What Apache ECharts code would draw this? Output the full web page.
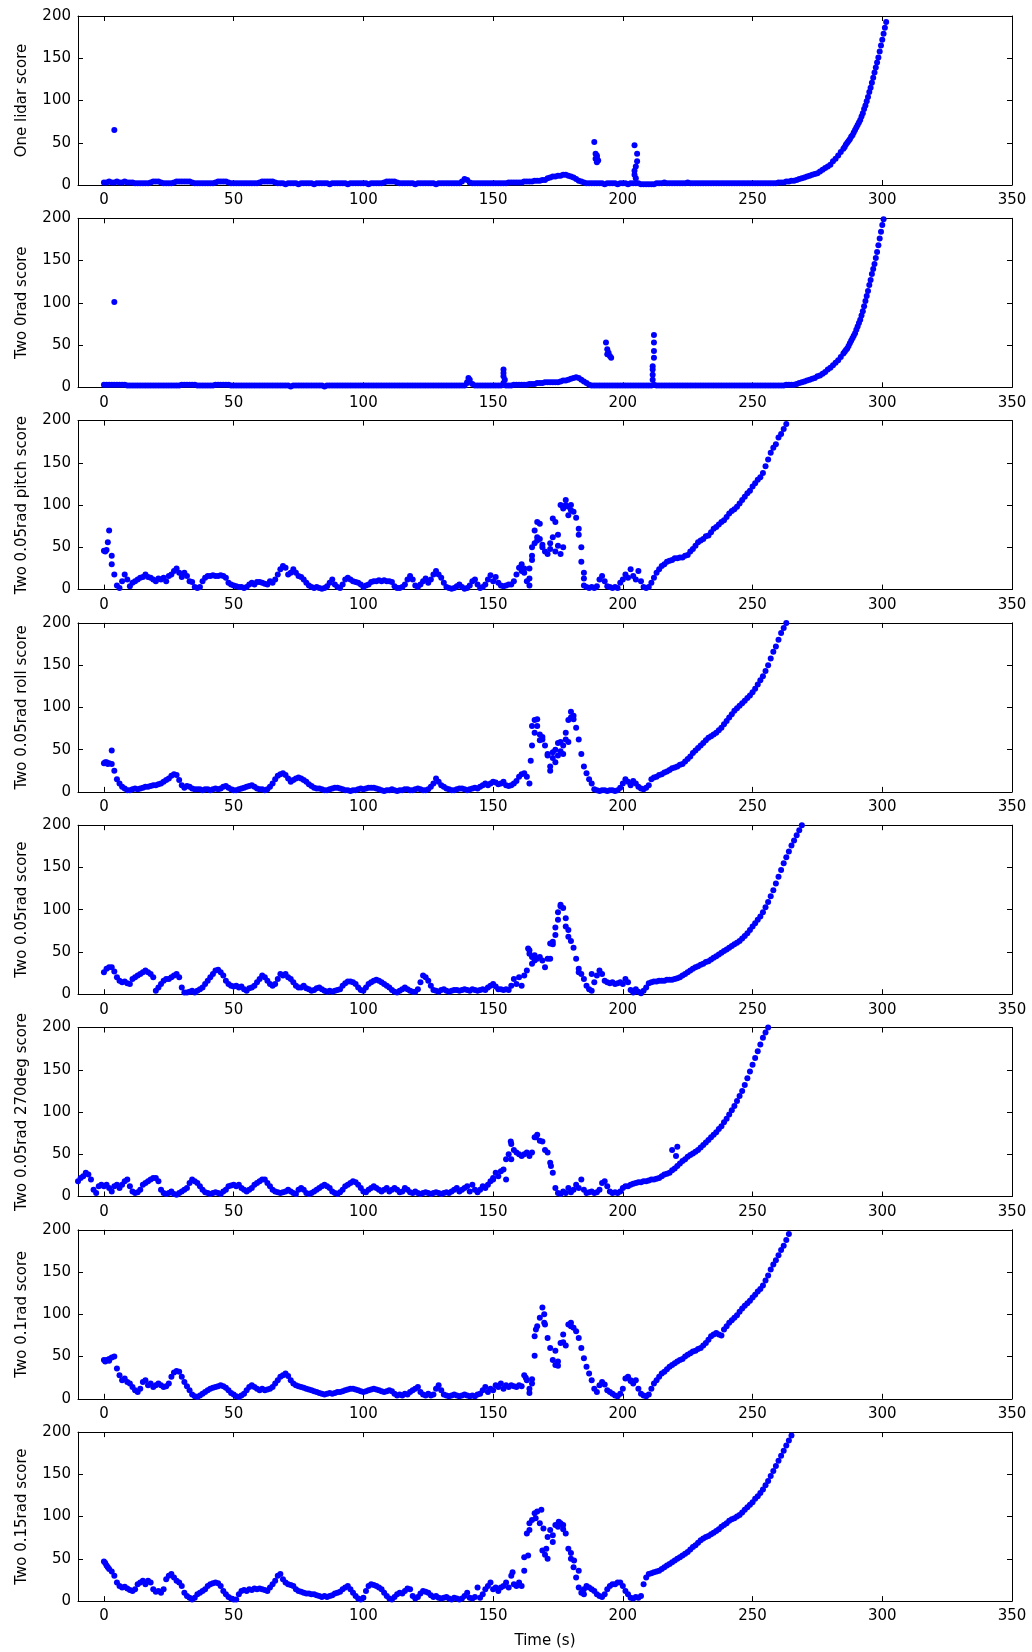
<!DOCTYPE html>
<html>
<head>
<meta charset="utf-8">
<script src="https://cdn.jsdelivr.net/npm/echarts@6/dist/echarts.min.js"></script>
<style>
html,body{margin:0;padding:0;background:#ffffff;}
#chart{width:1032px;height:1652px;}
</style>
</head>
<body>
<div id="chart"></div>
<script>
// ---- axis ticks / labels ----
const xTickValues = [0, 50, 100, 150, 200, 250, 300, 350];
const yTickValues = [0, 50, 100, 150, 200];
const panelLabels = [
  'One lidar score',
  'Two 0rad score',
  'Two 0.05rad pitch score',
  'Two 0.05rad roll score',
  'Two 0.05rad score',
  'Two 0.05rad 270deg score',
  'Two 0.1rad score',
  'Two 0.15rad score'
];
const xAxisTitle = 'Time (s)';

// ---- series values (one value per second, rows of 10) ----
// One lidar score, t from 0
const oneLidar = [
  3,3,4,3,3,4,3,3,4,3,
  3,3,2,2,2,2,2,2,3,4,
  4,4,3,2,2,2,2,3,4,4,
  4,4,4,4,3,2,2,2,2,2,
  2,2,2,3,4,4,4,4,3,2,
  2,2,2,2,2,2,2,2,2,2,
  3,4,4,4,4,4,3,2,2,2,
  1,2,2,2,2,1,2,2,2,2,
  2,1,2,2,2,2,2,1,2,2,
  2,2,2,2,1,2,2,2,2,2,
  2,2,1,2,2,2,2,2,3,4,
  4,4,4,3,2,2,2,2,2,2,
  1,2,2,2,2,2,2,2,1,2,
  2,2,2,2,2,2,2,2,4,7,
  6,3,2,2,2,2,2,2,2,2,
  2,2,2,2,2,2,3,3,3,3,
  3,3,4,4,4,4,5,5,5,6,
  6,8,9,10,10,11,11,12,12,11,
  10,9,7,5,4,3,2,2,2,2,
  2,2,2,1,2,2,2,2,1,2,
  2,2,1,2,2,2,2,1,1,1,
  1,1,1,2,2,2,3,2,2,2,
  2,2,2,2,2,3,2,2,2,2,
  2,2,2,2,2,2,2,2,2,2,
  2,2,2,2,2,2,2,2,2,2,
  2,2,2,2,2,2,2,2,2,2,
  3,3,3,4,4,5,5,6,7,8,
  9,10,11,12,13,14,16,18,20,22,
  24,28,31,35,39,43,48,52,57,62,
  68,74,81,90,99,110,121,133,145,158,
  172,186,201
];
// half-second readings on the steep part, t from 285.5
const oneLidarHalf = [45,50,54,59,65,71,77,85,94,104,115,127,139,151,165,179,193];
const oneLidarExtra = [[4,65],[189,51],[189.5,37],[190,35],[190,33],[189.5,31],[190.5,29],[190,27],
  [204.5,47],[205.5,37],[205.5,28],[205,22],[204.5,17],[204.5,12],[205,8]];

// Two 0rad score, t from 0
const twoZero = [
  3,3,3,3,3,3,3,3,3,2,
  2,2,2,2,2,2,2,2,2,2,
  2,2,2,2,2,2,2,2,2,2,
  3,3,3,3,3,3,2,2,2,2,
  2,2,2,3,3,3,3,3,3,2,
  2,2,2,2,2,2,2,2,2,2,
  2,2,2,2,2,2,2,2,2,2,
  2,2,1,2,2,2,2,2,2,2,
  2,2,2,2,2,1,2,2,2,2,
  2,2,2,2,2,2,2,2,2,2,
  2,2,2,2,2,2,2,2,2,2,
  2,2,2,2,2,2,2,2,2,2,
  2,2,2,2,2,2,2,2,2,2,
  2,2,2,2,2,2,2,2,2,2,
  5,9,4,2,2,2,2,2,2,2,
  2,2,2,2,13,2,2,2,3,3,
  3,3,3,3,4,4,4,5,5,5,
  6,6,6,6,6,6,7,8,8,9,
  10,11,12,11,9,7,5,3,2,2,
  2,2,2,2,2,2,2,2,2,2,
  2,2,2,2,2,2,2,2,2,2,
  2,2,3,2,2,2,2,2,2,2,
  2,2,2,2,2,2,2,2,2,2,
  2,2,2,2,2,2,2,2,2,2,
  2,2,2,2,2,2,2,2,2,2,
  2,2,2,2,2,2,2,2,2,2,
  2,2,2,3,3,3,3,4,5,6,
  7,8,9,10,11,13,14,16,18,21,
  23,26,29,32,36,40,44,49,55,61,
  68,76,85,96,108,121,134,146,160,176,
  192,205
];
const twoZeroHalf = [42,46,52,58,64,72,80,90,102,114,127,140,153,168,184,199];
const twoZeroExtra = [[4,101],[140.5,11],[140,6],[154,21],[154,17],[154.5,9],[154,5],
  [193.5,53],[194,45],[194.5,41],[195,37],[195.5,35],[194,39],
  [212,62],[212,53],[212,43],[212,35],[211.5,25],[211.5,21],[211.5,15],[211.5,9]];

// Two 0.05rad pitch score, t from 0
const pitch005 = [
  46,47,70,40,18,5,2,10,18,12,
  4,8,10,12,14,15,18,15,14,12,
  10,13,12,14,10,16,18,22,25,20,
  15,20,16,10,9,3,2,3,10,14,
  16,16,17,16,16,17,16,14,8,6,
  5,4,3,3,2,3,6,8,6,9,
  9,8,7,6,10,8,12,18,24,28,
  26,18,20,24,20,16,15,12,8,5,
  3,2,3,2,1,2,4,8,12,6,
  3,2,6,12,14,12,10,9,8,6,
  3,5,6,9,10,10,11,10,11,10,
  10,9,4,2,2,3,6,12,16,12,
  5,3,6,10,13,8,12,18,22,18,
  14,8,3,2,1,2,4,6,3,1,
  2,5,10,12,6,2,3,6,12,17,
  10,15,8,5,4,5,6,6,10,18,
  26,30,20,10,5,35,70,62,78,50,
  45,42,55,62,80,65,100,96,106,98,
  100,92,85,72,50,20,3,2,3,2,
  4,12,16,10,4,3,2,3,2,8,
  12,18,14,24,16,12,22,10,3,2,
  3,8,14,20,24,28,30,33,34,35,
  37,37,38,38,40,41,45,48,52,56,
  58,60,63,64,68,72,74,77,80,82,
  86,90,93,95,98,102,106,110,114,117,
  122,126,130,133,138,146,154,162,168,172,
  180,184,190,196,201
];
const pitch005Extra = [[0.5,45],[1.5,56],[3,30],[161,22],[162,25],[164,13],[164,25],[165,50],[165,40],
  [166,55],[167,80],[167,58],[168,60],[169,53],[172,48],[173,84],[174,45],[175,52],[176,42],[177,50],
  [178,100],[179,88],[180,94],[183,65],[184,33],[185,13],[185,5]];

// Two 0.05rad roll score, t from 0
const roll005 = [
  34,35,34,33,25,15,10,6,4,2,
  2,3,4,3,4,5,6,6,7,8,
  8,9,10,12,14,16,19,21,20,14,
  8,5,7,6,4,3,3,3,2,3,
  3,2,3,4,3,4,6,7,5,3,
  2,2,3,4,5,6,7,8,6,4,
  3,3,2,3,6,10,15,19,21,22,
  20,16,12,14,16,17,16,14,12,9,
  7,5,4,4,3,2,2,3,4,5,
  5,4,3,2,2,1,2,2,3,4,
  3,4,5,5,5,4,3,2,1,2,
  2,3,2,1,2,2,3,3,2,2,
  3,4,3,2,2,3,6,10,16,12,
  8,6,4,3,2,2,3,4,4,3,
  2,3,4,5,4,6,8,10,8,10,
  12,11,9,10,12,8,7,8,10,13,
  18,21,22,18,10,55,85,78,68,62,
  55,45,30,40,50,58,48,55,62,85,
  95,90,76,62,45,30,22,15,10,3,
  2,1,2,2,1,2,2,1,2,5,
  10,15,12,8,13,10,6,4,3,5,
  8,15,17,18,20,21,23,24,26,28,
  29,30,32,33,36,39,42,46,49,52,
  55,58,61,64,66,68,70,73,76,80,
  84,88,92,96,99,102,105,108,111,114,
  118,122,127,132,137,143,150,158,166,172,
  180,188,194,200
];
const roll005Extra = [[0.5,35],[1.5,33],[3,49],[164.5,37],[165,78],[166,70],[167,86],[168,61],[169,65],
  [171,43],[172,25],[173,47],[174,35],[175,43],[176,59],[177,45],[178,70],[179,59],[180,88],[181,86]];

// Two 0.05rad score, t from 0
const rad005 = [
  26,30,32,32,27,20,16,14,15,13,
  12,18,20,22,24,26,28,26,24,20,
  4,8,12,16,18,18,20,22,24,20,
  8,2,2,3,4,2,4,6,8,12,
  16,20,24,28,29,26,22,16,12,10,
  9,10,8,9,6,4,7,8,10,14,
  18,22,20,16,12,10,12,18,24,22,
  24,20,18,14,10,8,8,10,7,6,
  4,5,7,8,6,4,3,4,3,4,
  5,6,10,13,15,15,14,12,8,5,
  4,8,12,14,16,17,16,14,12,10,
  8,5,3,2,4,6,8,6,4,3,
  3,6,14,22,20,16,10,5,4,3,
  5,6,4,3,4,5,5,4,5,6,
  5,4,6,5,4,5,6,5,8,10,
  12,9,6,6,5,6,5,10,18,12,
  20,10,22,28,52,44,40,42,44,40,
  32,42,60,62,70,88,104,102,80,76,
  63,55,42,30,24,18,10,6,4,14,
  22,28,24,16,14,13,14,12,13,14,
  12,18,14,5,2,6,3,1,4,8,
  13,14,15,15,16,16,16,17,17,17,
  18,19,20,22,24,26,28,30,32,33,
  35,36,38,39,41,43,45,47,49,51,
  53,55,57,59,61,63,66,69,72,76,
  80,84,88,92,97,103,109,116,123,131,
  139,147,155,162,169,176,182,188,194,200
];
const rad005Extra = [[163.5,54],[164,48],[165,36],[166,46],[172,42],[173,59],[174,79],[175,97],
  [176,106],[178,90],[179,68],[183,26],[188,24]];

// Two 0.05rad 270deg score, t from -10
const deg270 = [
  18,22,24,28,26,20,8,4,12,14,
  12,14,10,6,12,14,10,14,18,20,
  12,6,4,5,8,14,16,18,20,22,
  22,18,8,4,3,4,6,3,2,4,
  6,8,10,16,20,18,16,12,8,5,
  4,3,4,5,4,3,6,8,12,13,
  14,12,14,10,8,6,8,10,14,16,
  18,20,20,16,12,8,6,5,4,5,
  6,8,6,4,3,8,10,8,4,3,
  4,6,8,10,12,14,12,10,6,4,
  3,5,8,12,14,16,18,17,14,10,
  6,5,8,10,12,10,8,6,8,10,
  6,8,10,8,5,6,10,8,5,4,
  6,4,3,4,5,4,3,4,5,4,
  3,4,5,4,6,8,10,6,8,10,
  12,6,14,8,5,8,12,10,14,18,
  22,28,24,30,32,44,50,62,55,52,
  50,48,50,52,48,52,70,73,66,65,
  55,52,40,28,10,4,3,6,4,10,
  5,8,14,10,20,8,4,5,6,4,
  5,8,16,18,12,6,4,5,4,6,
  10,12,12,14,15,16,17,17,18,18,
  19,20,20,21,22,24,26,27,28,31,
  33,36,39,42,44,47,49,51,53,55,
  58,61,64,67,70,73,76,80,83,88,
  92,97,102,107,113,119,125,132,140,148,
  156,164,172,180,188,194,200
];
const deg270Extra = [[150,20],[155,20],[156.8,65],[157,44],[166.5,70],[172.3,36],[219,55],[221,59],[220.5,48]];

// Two 0.1rad score, t from 0
const rad01 = [
  46,46,47,49,50,36,28,22,24,20,
  18,14,10,8,12,20,22,16,18,14,
  16,18,16,14,15,18,26,31,33,32,
  26,20,15,10,5,3,2,4,6,8,
  10,12,13,14,15,16,15,13,10,7,
  5,3,2,4,6,10,14,16,14,12,
  10,12,10,11,12,14,18,22,26,28,
  30,27,22,18,16,15,14,13,12,11,
  10,9,8,7,6,5,6,7,6,7,
  8,8,9,10,11,12,12,11,10,9,
  8,9,10,11,12,11,10,9,8,9,
  10,9,6,4,5,4,6,5,8,10,
  12,14,8,5,4,6,4,5,12,16,
  10,5,4,3,4,5,4,3,4,5,
  4,3,4,3,5,6,10,14,8,12,
  10,16,14,18,12,16,14,16,15,14,
  16,15,28,22,12,18,74,86,96,108,
  88,72,60,46,40,44,66,76,63,88,
  90,84,80,72,60,48,38,30,22,12,
  8,16,20,17,10,8,6,4,3,6,
  12,24,26,22,18,22,12,6,4,3,
  5,12,18,22,26,30,32,35,38,40,
  42,44,46,47,50,52,54,56,57,59,
  60,63,66,70,74,76,78,76,75,82,
  86,90,93,96,99,103,107,110,113,116,
  120,123,127,130,134,140,146,153,159,164,
  170,176,181,188,195,201
];
const rad01Extra = [[0.5,44],[2,45],[162.6,25],[164,7],[165,23],[166,51],[166.5,82],[169.7,100],[169.7,90],
  [174,57],[175,39],[177,67],[180,86],[203,21]];

// Two 0.15rad score, t from 0
const rad015 = [
  47,42,38,35,30,22,18,16,17,15,
  13,12,14,20,22,24,20,24,22,14,
  11,12,10,14,26,30,32,28,24,22,
  18,10,6,4,2,4,8,10,12,14,
  18,20,21,22,21,18,12,8,5,3,
  2,2,8,12,13,12,14,13,15,14,
  15,14,13,12,16,20,24,30,32,26,
  22,20,19,18,14,12,11,10,9,9,
  8,8,7,6,5,6,5,6,7,9,
  10,11,14,16,18,14,10,6,3,2,
  4,12,18,20,19,18,16,14,10,6,
  3,2,5,8,10,9,12,15,14,6,
  3,5,9,12,11,10,7,5,6,4,
  3,4,5,3,2,4,3,2,3,6,
  10,4,3,5,16,4,8,14,18,22,
  14,16,12,16,18,22,16,30,20,18,
  22,18,52,80,92,96,104,106,92,60,
  55,76,84,78,90,88,92,85,80,62,
  50,40,28,16,10,14,18,16,14,12,
  8,6,5,8,14,18,20,20,22,22,
  18,12,8,4,3,5,4,6,20,28,
  32,33,34,35,36,38,40,42,44,46,
  48,50,52,54,56,58,61,64,66,69,
  72,74,76,77,79,81,83,85,88,90,
  92,95,97,98,100,102,105,108,111,114,
  117,121,124,128,132,137,142,148,154,160,
  166,172,178,184,190,196,201
];
const rad015Extra = [[0.5,45],[1.5,40],[157.5,34],[162,36],[163.5,54],[164,84],[166.4,98],[168.6,108],
  [169.4,86],[170.5,62],[171,50],[173,70],[175.3,94],[177,90],[180,57],[181.2,48],[183,36],[185,8]];

// start time of each series' one-per-second readings
const seriesStartTimes = [0, 0, 0, 0, 0, -10, 0, 0];
const halfStepStartTimes = [285.5, 285.5, 0, 0, 0, 0, 0, 0];

const mainValues = [oneLidar, twoZero, pitch005, roll005, rad005, deg270, rad01, rad015];
const halfValues = [oneLidarHalf, twoZeroHalf, [], [], [], [], [], []];
const extraPoints = [oneLidarExtra, twoZeroExtra, pitch005Extra, roll005Extra, rad005Extra, deg270Extra, rad01Extra, rad015Extra];

// ---- build chart ----
const FONT = 'DejaVu Sans';
const TEXT = '#000000';
const grids = [], xAxes = [], yAxes = [], series = [];

for (let i = 0; i < 8; i++) {
  const last = (i === 7);
  grids.push({ left: 78, right: 20, top: 16 + 202.3 * i, height: 169, containLabel: false });

  xAxes.push({
    gridIndex: i, type: 'value', min: -10, max: 350, position: 'bottom',
    axisLine: { show: true, onZero: false, lineStyle: { color: '#000', width: 1 } },
    axisTick: { show: true, inside: true, length: 5, customValues: xTickValues, lineStyle: { color: '#000' } },
    axisLabel: { show: true, customValues: xTickValues, margin: 8, color: TEXT, fontSize: 15, fontFamily: FONT },
    splitLine: { show: false },
    name: last ? xAxisTitle : '', nameLocation: 'middle', nameGap: 33,
    nameTextStyle: { color: TEXT, fontSize: 15, fontFamily: FONT }
  });
  xAxes.push({
    gridIndex: i, type: 'value', min: -10, max: 350, position: 'top',
    axisLine: { show: true, onZero: false, lineStyle: { color: '#000', width: 1 } },
    axisTick: { show: true, inside: true, length: 5, customValues: xTickValues, lineStyle: { color: '#000' } },
    axisLabel: { show: false }, splitLine: { show: false }
  });
  yAxes.push({
    gridIndex: i, type: 'value', min: 0, max: 200, interval: 50, position: 'left',
    axisLine: { show: true, onZero: false, lineStyle: { color: '#000', width: 1 } },
    axisTick: { show: true, inside: true, length: 5, lineStyle: { color: '#000' } },
    axisLabel: { show: true, margin: 7, color: TEXT, fontSize: 15, fontFamily: FONT },
    splitLine: { show: false },
    name: panelLabels[i], nameLocation: 'middle', nameGap: 48, nameRotate: 90,
    nameTextStyle: { color: TEXT, fontSize: 15, fontFamily: FONT }
  });
  yAxes.push({
    gridIndex: i, type: 'value', min: 0, max: 200, interval: 50, position: 'right',
    axisLine: { show: true, onZero: false, lineStyle: { color: '#000', width: 1 } },
    axisTick: { show: true, inside: true, length: 5, lineStyle: { color: '#000' } },
    axisLabel: { show: false }, splitLine: { show: false }
  });

  const data = mainValues[i].map((v, k) => [seriesStartTimes[i] + k, v]);
  halfValues[i].forEach((v, k) => data.push([halfStepStartTimes[i] + k, v]));
  extraPoints[i].forEach(p => data.push([p[0], p[1]]));

  series.push({
    type: 'scatter', xAxisIndex: 2 * i, yAxisIndex: 2 * i, data: data,
    symbol: 'circle', symbolSize: 6, clip: true, silent: true,
    itemStyle: { color: '#0000ff', opacity: 1 }
  });
}

const chart = echarts.init(document.getElementById('chart'), null, { renderer: 'canvas' });
chart.setOption({
  animation: false,
  backgroundColor: '#ffffff',
  grid: grids, xAxis: xAxes, yAxis: yAxes, series: series
});
</script>
</body>
</html>
